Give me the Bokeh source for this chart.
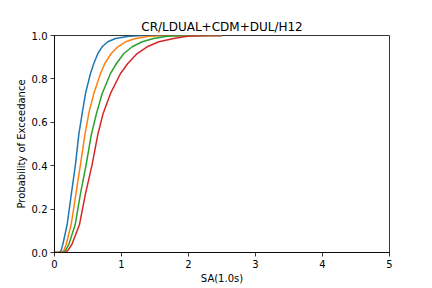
from bokeh.plotting import figure
from bokeh.models import Range1d, FixedTicker, PrintfTickFormatter
from bokeh.embed import file_html
from bokeh.resources import INLINE

title_text = "CR/LDUAL+CDM+DUL/H12"
x_label = "SA(1.0s)"
y_label = "Probability of Exceedance"

# Fragility curves: (SA, probability) points
blue_sa = [0.0, 0.075, 0.10, 0.124, 0.189, 0.25, 0.313, 0.363, 0.413, 0.463, 0.537, 0.587, 0.647, 0.711, 0.796, 0.91, 1.11, 1.3, 2.5]
blue_p = [0.0, 0.0, 0.01, 0.037, 0.129, 0.267, 0.406, 0.544, 0.641, 0.733, 0.825, 0.871, 0.917, 0.948, 0.971, 0.986, 0.997, 1.0, 1.0]

orange_sa = [0.0, 0.11, 0.14, 0.174, 0.249, 0.318, 0.388, 0.455, 0.512, 0.587, 0.687, 0.751, 0.846, 0.945, 1.06, 1.21, 1.41, 1.6, 2.5]
orange_p = [0.0, 0.0, 0.01, 0.037, 0.129, 0.267, 0.406, 0.544, 0.641, 0.733, 0.825, 0.871, 0.917, 0.948, 0.971, 0.986, 0.997, 1.0, 1.0]

green_sa = [0.0, 0.134, 0.165, 0.214, 0.309, 0.385, 0.473, 0.55, 0.627, 0.712, 0.836, 0.925, 1.035, 1.16, 1.31, 1.48, 1.68, 2.0, 2.5]
green_p = [0.0, 0.0, 0.01, 0.037, 0.129, 0.267, 0.406, 0.544, 0.641, 0.733, 0.825, 0.871, 0.917, 0.948, 0.971, 0.986, 0.997, 1.0, 1.0]

red_sa = [0.0, 0.16, 0.2, 0.259, 0.373, 0.46, 0.562, 0.647, 0.726, 0.836, 0.985, 1.094, 1.234, 1.383, 1.557, 1.78, 1.98, 2.3, 2.5]
red_p = [0.0, 0.0, 0.01, 0.037, 0.129, 0.267, 0.406, 0.544, 0.641, 0.733, 0.825, 0.871, 0.917, 0.948, 0.971, 0.986, 0.997, 1.0, 1.0]

x_ticks = [0, 1, 2, 3, 4, 5]
y_ticks = [0.0, 0.2, 0.4, 0.6, 0.8, 1.0]

series = [
    (blue_sa, blue_p, "#1f77b4"),
    (orange_sa, orange_p, "#ff7f0e"),
    (green_sa, green_p, "#2ca02c"),
    (red_sa, red_p, "#d62728"),
]

FONT = "DejaVu Sans"

p = figure(width=432, height=288, output_backend="svg", toolbar_location=None,
           x_range=Range1d(0, 5), y_range=Range1d(0, 1),
           min_border_left=54, min_border_right=43, min_border_top=35, min_border_bottom=36,
           title=title_text)

for xs, ys, c in series:
    p.line(xs, ys, line_color=c, line_width=1.5, line_join="round")

p.title.align = "center"
p.title.text_font = FONT
p.title.text_font_size = "12px"
p.title.text_font_style = "normal"
p.title.text_color = "black"
p.title.standoff = 4

p.xgrid.visible = False
p.ygrid.visible = False
p.background_fill_color = "white"
p.border_fill_color = "white"
p.outline_line_color = "black"
p.outline_line_width = 0.8
p.outline_line_alpha = 1.0

for ax in (p.xaxis[0], p.yaxis[0]):
    ax.axis_line_color = "black"
    ax.axis_line_width = 0.8
    ax.major_tick_line_color = "black"
    ax.major_tick_line_width = 0.8
    ax.major_tick_in = 0
    ax.major_tick_out = 4
    ax.minor_tick_line_color = None
    ax.major_label_text_font = FONT
    ax.major_label_text_font_size = "10px"
    ax.major_label_text_color = "black"
    ax.major_label_standoff = 3
    ax.axis_label_text_font = FONT
    ax.axis_label_text_font_size = "10px"
    ax.axis_label_text_font_style = "normal"
    ax.axis_label_text_color = "black"
    ax.axis_label_standoff = 2

p.xaxis[0].ticker = FixedTicker(ticks=x_ticks)
p.yaxis[0].ticker = FixedTicker(ticks=y_ticks)
p.yaxis[0].formatter = PrintfTickFormatter(format="%.1f")
p.xaxis[0].axis_label = x_label
p.yaxis[0].axis_label = y_label

open("out.html", "w").write(file_html(p, INLINE))
